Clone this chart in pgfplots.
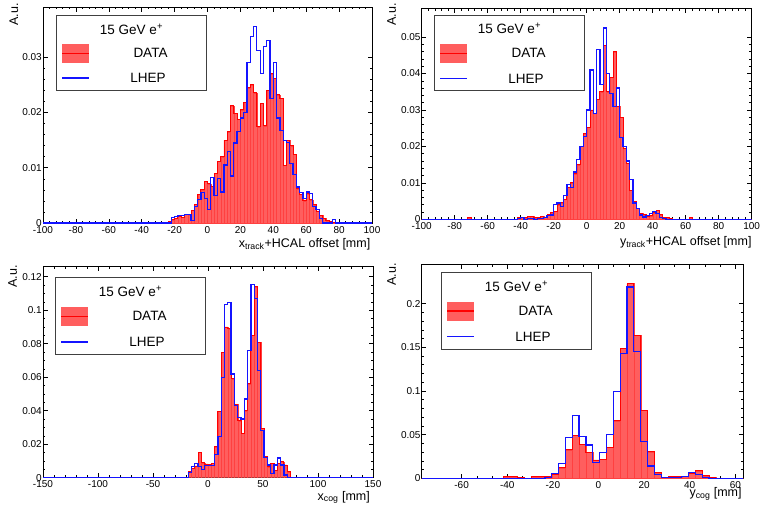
\documentclass[border=0pt]{standalone}
\usepackage{fontspec}
\setmainfont{Liberation Sans}
\usepackage{pgfplots}
\pgfplotsset{compat=1.18}
\usepackage{pgfplotstable}

\colorlet{histfill}{red!63}
\definecolor{lhepblue}{RGB}{20,20,255}

% x = left bin edge, d = DATA, m = LHEP
\pgfplotstableread{
x d m
-100 0 0
-24 0.0003 0.0000
-22 0.0006 0.0010
-20 0.0008 0.0012
-18 0.0012 0.0013
-16 0.0010 0.0013
-14 0.0016 0.0016
-12 0.0015 0.0015
-10 0.0023 0.0004
-8 0.0034 0.0030
-6 0.0052 0.0043
-4 0.0060 0.0055
-2 0.0075 0.0045
0 0.0071 0.0025
2 0.0066 0.0083
4 0.0090 0.0050
6 0.0112 0.0080
8 0.0120 0.0056
10 0.0150 0.0105
12 0.0165 0.0130
14 0.0212 0.0085
16 0.0198 0.0145
18 0.0188 0.0166
20 0.0205 0.0190
22 0.0218 0.0200
24 0.0245 0.0290
26 0.0250 0.0338
28 0.0236 0.0356
30 0.0174 0.0312
32 0.0217 0.0270
34 0.0176 0.0320
36 0.0240 0.0330
38 0.0270 0.0225
40 0.0262 0.0290
42 0.0232 0.0190
44 0.0226 0.0168
46 0.0104 0.0150
48 0.0150 0.0146
50 0.0140 0.0108
52 0.0124 0.0088
54 0.0062 0.0065
56 0.0052 0.0055
58 0.0040 0.0045
60 0.0053 0.0056
62 0.0042 0.0054
64 0.0033 0.0030
66 0.0021 0.0024
68 0.0014 0.0008
70 0.0008 0.0000
72 0.0004 0.0000
74 0.0002 0.0000
76 0.0001 0.0006
78 0 0
100 0 0
}\xtrack

\pgfplotstableread{
x d m
-100 0 0
-72 0.0004 0
-70 0 0
-42 0.0004 0.0002
-40 0.0006 0.0004
-38 0.0004 0
-36 0.0008 0.0002
-34 0.0008 0.0002
-32 0.0004 0
-30 0.0006 0.0002
-28 0.0008 0.0002
-26 0.0005 0.0004
-24 0.0012 0.0010
-22 0.0018 0.0012
-20 0.0022 0.0040
-18 0.0040 0.0045
-16 0.0045 0.0036
-14 0.0055 0.0065
-12 0.0088 0.0095
-10 0.0100 0.0088
-8 0.0125 0.0130
-6 0.0150 0.0165
-4 0.0200 0.0200
-2 0.0235 0.0228
0 0.0252 0.0300
2 0.0300 0.0410
4 0.0290 0.0290
6 0.0330 0.0466
8 0.0350 0.0370
10 0.0478 0.0525
12 0.0350 0.0400
14 0.0390 0.0345
16 0.0460 0.0310
18 0.0310 0.0360
20 0.0280 0.0225
22 0.0195 0.0200
24 0.0153 0.0160
26 0.0080 0.0110
28 0.0048 0.0045
30 0.0030 0.0030
32 0.0016 0.0012
34 0.0012 0.0006
36 0.0008 0.0010
38 0.0010 0.0015
40 0.0018 0.0022
42 0.0025 0.0015
44 0.0012 0.0005
46 0.0006 0.0003
48 0.0004 0
50 0.0002 0
52 0 0
62 0.0004 0
64 0 0
100 0 0
}\ytrack

\pgfplotstableread{
x d m
-150 0 0
-18 0.0036 0.0030
-15 0.0055 0.0066
-12 0.0070 0.0085
-9 0.0150 0.0066
-6 0.0090 0.0050
-3 0.0082 0.0075
0 0.0078 0.0075
3 0.0086 0.0075
6 0.0185 0.0140
9 0.0395 0.0245
12 0.0750 0.0600
15 0.0900 0.1035
18 0.0890 0.1047
21 0.0590 0.0620
24 0.0440 0.0430
27 0.0340 0.0360
30 0.0265 0.0350
33 0.0400 0.0470
36 0.0560 0.0760
39 0.0850 0.1154
42 0.1140 0.1070
45 0.0810 0.0640
48 0.0295 0.0280
51 0.0125 0.0122
54 0.0066 0.0076
57 0.0086 0.0024
60 0.0045 0.0076
63 0.0086 0.0118
66 0.0095 0.0076
69 0.0076 0.0016
72 0.0036 0
75 0 0
150 0 0
}\xcog

\pgfplotstableread{
x d m
-77.5 0 0
-41.5 0.0018 0
-38.5 0.0018 0
-35.5 0.0008 0
-32.5 0 0
-29.5 0.0018 0
-26.5 0.0018 0
-23.5 0.0020 0.0010
-20.5 0.0045 0.0055
-17.5 0.0120 0.0170
-14.5 0.0325 0.0465
-11.5 0.0490 0.0720
-8.5 0.0390 0.0480
-5.5 0.0300 0.0380
-2.5 0.0210 0.0180
0.5 0.0220 0.0295
3.5 0.0355 0.0500
6.5 0.0660 0.0995
9.5 0.1490 0.1430
12.5 0.2230 0.2190
15.5 0.1640 0.1450
18.5 0.0780 0.0420
21.5 0.0305 0.0140
24.5 0.0065 0.0040
27.5 0.0015 0.0010
30.5 0.0020 0.0010
33.5 0.0020 0.0010
36.5 0.0025 0.0020
39.5 0.0055 0.0065
42.5 0.0085 0.0040
45.5 0.0030 0.0010
48.5 0.0010 0
51.5 0 0
63.5 0 0
}\ycog

\pgfplotsset{
  rootstyle/.style={
    scale only axis,
    axis line style={line width=0.8pt},
    tick align=inside,
    tick pos=both,
    major tick length=4.5pt,
    minor tick length=2.4pt,
    every tick/.style={line width=0.6pt},
    ymin=0,
    scaled y ticks=false,
    scaled x ticks=false,
    tick label style={font=\fontsize{10}{12}\selectfont, /pgf/number format/assume math mode=true},
    yticklabel style={/pgf/number format/fixed, /pgf/number format/precision=3, inner sep=1pt},
    xticklabel style={inner sep=1pt, yshift=-2pt},
  },
}

\newcommand{\hists}[1]{%
  \addplot[ybar interval, fill=histfill, draw=red!75, line width=0.25pt] table[x=x,y=d]{#1};
  \addplot[const plot mark left, draw=red, line width=0.9pt] table[x=x,y=d]{#1};
  \addplot[const plot mark left, draw=lhepblue, line width=1.25pt] table[x=x,y=m]{#1};
}

\newcommand{\labfont}{\fontsize{12.5}{14}\selectfont}
\newcommand{\legfont}{\fontsize{13.5}{16}\selectfont}

% ROOT-like legend box: #1 = top left corner, #2 = box height
\newcommand{\rootlegend}[2]{%
  \begin{scope}[shift={(#1)}]
    \draw[draw=black!75, line width=1pt, fill=white] (0,0) rectangle (150pt,-#2pt);
    \node[font=\legfont, inner sep=0pt, text=black] at (75.5pt,{-0.18*#2 pt}) {15 GeV e\textsuperscript{+}};
    \fill[fill=histfill] (6pt,{-0.505*#2 pt+9.5pt}) rectangle (33pt,{-0.505*#2 pt-9.5pt});
    \draw[draw=red, line width=1.2pt] (6pt,{-0.505*#2 pt}) -- (33pt,{-0.505*#2 pt});
    \node[font=\legfont, inner sep=0pt, text=black] at (94.5pt,{-0.505*#2 pt}) {DATA};
    \draw[draw=lhepblue, line width=1.5pt] (6pt,{-0.84*#2 pt}) -- (33pt,{-0.84*#2 pt});
    \node[font=\legfont, inner sep=0pt, text=black] at (92pt,{-0.84*#2 pt}) {LHEP};
  \end{scope}}

% axis labels, ROOT style: #1 axis name, #2 x label, #3/#4 x label shift, #5/#6 y label shift
\newcommand{\rootlabels}[6]{%
  \node[font=\labfont, anchor=base east, inner sep=0pt] at ([xshift=#3pt,yshift=#4pt]#1.south east) {#2};
  \node[font=\labfont, inner sep=0pt, anchor=north east, rotate=90] at ([xshift=#5pt,yshift=#6pt]#1.north west) {A.u.};
}

\begin{document}
\begin{tikzpicture}
\useasboundingbox (0,0) rectangle (760pt,-504pt);

% top left
\begin{axis}[rootstyle, name=tl, at={(43pt,-7pt)}, anchor=north west,
  width=329pt, height=216pt,
  xmin=-100, xmax=100, ymax=0.0391,
  xtick={-100,-80,...,100}, minor x tick num=4,
  ytick={0,0.01,0.02,0.03}, minor y tick num=4]
\hists{\xtrack}
\end{axis}
\rootlabels{tl}{x\textsubscript{track}+HCAL offset [mm]}{-1.5}{-24}{-33.7}{4}
\rootlegend{56pt,-15.7pt}{74.3}

% top right
\begin{axis}[rootstyle, name=tr, at={(421.7pt,-8.3pt)}, anchor=north west,
  width=330pt, height=211pt,
  xmin=-100, xmax=100, ymax=0.0579,
  xtick={-100,-80,...,100}, minor x tick num=4,
  ytick={0,0.01,0.02,0.03,0.04,0.05}, minor y tick num=4]
\hists{\ytrack}
\end{axis}
\rootlabels{tr}{y\textsubscript{track}+HCAL offset [mm]}{0}{-25.7}{-34.7}{5.3}
\rootlegend{434pt,-15pt}{75.7}

% bottom left
\begin{axis}[rootstyle, name=bl, at={(43pt,-266.7pt)}, anchor=north west,
  width=330pt, height=211pt,
  xmin=-150, xmax=150, ymax=0.126,
  xtick={-150,-100,...,150}, minor x tick num=4,
  ytick={0,0.02,0.04,0.06,0.08,0.1,0.12}, minor y tick num=3]
\hists{\xcog}
\end{axis}
\rootlabels{bl}{x\textsubscript{cog} [mm]}{-3}{-22.3}{-35}{1.7}
\rootlegend{55pt,-277.7pt}{76.3}

% bottom right
\begin{axis}[rootstyle, name=br, at={(421.7pt,-264.3pt)}, anchor=north west,
  width=321.6pt, height=214pt,
  xmin=-77.5, xmax=63.5, ymax=0.245,
  xtick={-60,-40,...,60}, minor x tick num=2,
  ytick={0,0.05,0.1,0.15,0.2}, minor y tick num=4]
\hists{\ycog}
\end{axis}
\rootlabels{br}{y\textsubscript{cog} [mm]}{-1.5}{-18.5}{-34.7}{1.3}
\rootlegend{441pt,-272.3pt}{76.7}
\end{tikzpicture}
\end{document}
